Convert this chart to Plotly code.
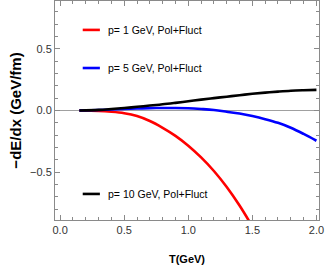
import plotly.graph_objects as go

T = [0.15, 0.3, 0.4, 0.5, 0.6, 0.7, 0.8, 0.9, 1.0, 1.1, 1.2, 1.3, 1.4, 1.5, 1.6, 1.7, 1.8, 1.9, 2.0]
red = [0.0, -0.003, -0.01, -0.022, -0.045, -0.085, -0.14, -0.205, -0.285, -0.38, -0.49, -0.62, -0.77, -0.94, None, None, None, None, None]
blue = [0.0, 0.004, 0.008, 0.012, 0.016, 0.019, 0.02, 0.02, 0.018, 0.012, 0.004, -0.01, -0.025, -0.045, -0.07, -0.1, -0.14, -0.19, -0.245]
black = [0.0, 0.005, 0.012, 0.02, 0.03, 0.04, 0.05, 0.062, 0.075, 0.088, 0.1, 0.112, 0.124, 0.135, 0.145, 0.153, 0.16, 0.164, 0.167]
labels = ["p= 1 GeV, Pol+Fluct", "p= 5 GeV, Pol+Fluct", "p= 10 GeV, Pol+Fluct"]
colors = ["#ff0000", "#0000ff", "#000000"]
legend_y = [0.868, 0.694, 0.119]

XR = [-0.04, 2.02]
YR = [-0.887, 0.887]
FONT = "Liberation Sans"

fig = go.Figure()
for ys, c in zip([red, blue, black], colors):
    fig.add_trace(go.Scatter(x=T, y=ys, mode="lines", line=dict(color=c, width=2.6, shape="spline"),
                             showlegend=False, connectgaps=False))
# invisible trace to activate mirrored axes
fig.add_trace(go.Scatter(x=[None], y=[None], xaxis="x2", yaxis="y2", showlegend=False, hoverinfo="skip"))

for lab, c, ly in zip(labels, colors, legend_y):
    fig.add_shape(type="line", xref="paper", yref="paper", x0=0.105, x1=0.17, y0=ly, y1=ly,
                  line=dict(color=c, width=2.6))
    fig.add_annotation(text=lab, xref="paper", yref="paper", x=0.195, y=ly, xanchor="left",
                       yanchor="middle", showarrow=False,
                       font=dict(family=FONT, size=10.5, color="#000"))

fig.add_shape(type="line", xref="paper", yref="y", x0=0, x1=1, y0=0, y1=0,
              line=dict(color="#a0a0a0", width=1), layer="below")

common = dict(showline=True, linecolor="#8a8a8a", linewidth=1,
              ticks="inside", ticklen=5, tickcolor="#8a8a8a", showgrid=False, zeroline=False,
              automargin=False,
              tickfont=dict(family=FONT, size=11, color="#333"))
minor = dict(dtick=0.1, tick0=0, ticks="inside", ticklen=3, tickcolor="#8a8a8a", showgrid=False)
nofont = {k: v for k, v in common.items() if k != "tickfont"}

fig.update_layout(
    width=327, height=273, margin=dict(l=55, r=8, t=1, b=53),
    plot_bgcolor="white", paper_bgcolor="white",
    xaxis=dict(range=XR, tickvals=[0, 0.5, 1.0, 1.5, 2.0], tickformat=".1f", minor=minor,
               title=dict(text="<b>T(GeV)</b>", standoff=20,
                          font=dict(family=FONT, size=11, color="#000")),
               **common),
    yaxis=dict(range=YR, tickvals=[-0.5, 0, 0.5], tickformat=".1f", minor=minor,
               title=dict(text="<b>−dE/dx (GeV/fm)</b>", standoff=4,
                          font=dict(family=FONT, size=15, color="#000")),
               **common),
    xaxis2=dict(range=XR, overlaying="x", side="top", tickvals=[0, 0.5, 1.0, 1.5, 2.0],
                showticklabels=False, minor=minor, **nofont),
    yaxis2=dict(range=YR, overlaying="y", side="right", tickvals=[-0.5, 0, 0.5],
                showticklabels=False, minor=minor, **nofont),
)

fig.write_html("out.html", config={"displayModeBar": False},
               post_script="document.body.style.margin='0';")
